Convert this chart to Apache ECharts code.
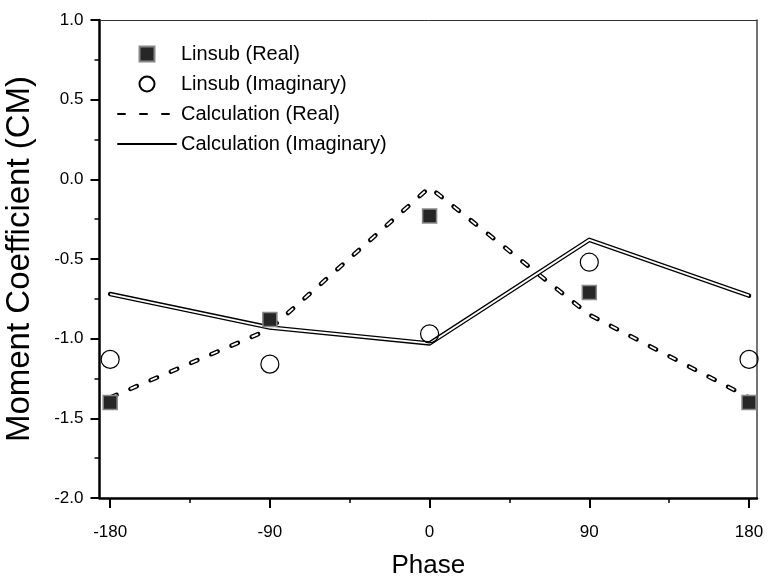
<!DOCTYPE html>
<html>
<head>
<meta charset="utf-8">
<script src="https://cdn.jsdelivr.net/npm/echarts@6/dist/echarts.min.js"></script>
<style>
html, body { margin: 0; padding: 0; background: #fff; }
#chart { width: 769px; height: 582px; }
</style>
</head>
<body>
<div id="chart"></div>
<script>
// data
var phases = [-180, -90, 0, 90, 180];
var linsubReal = [-1.40, -0.88, -0.23, -0.71, -1.40];
var linsubImag = [-1.13, -1.16, -0.97, -0.52, -1.13];
var calcReal = [-1.37, -0.94, -0.05, -0.85, -1.37];
var calcImag = [-0.72, -0.93, -1.03, -0.38, -0.73];
var majorTicks = [-180, -90, 0, 90, 180];
var minorTicks = [-135, -45, 45, 135];

function pairs(ys) {
    return phases.map(function (x, i) { return [x, ys[i]]; });
}

var font = 'Liberation Sans, Arial, sans-serif';
var xMin = -186, xMax = 184.5;
var squarePath = 'path://M0,0H10V10H0Z';

var chart = echarts.init(document.getElementById('chart'));

var opt = {
    animation: false,
    backgroundColor: '#fff',
    grid: [
        { left: 99.5, right: 12, top: 20, bottom: 84, outerBoundsMode: 'none' },
        { left: 99.5, right: 12, top: 20, bottom: 84, outerBoundsMode: 'none' }
    ],
    legend: {
        orient: 'vertical',
        left: 112,
        top: 39,
        itemWidth: 58,
        itemHeight: 15,
        itemGap: 10,
        symbolKeepAspect: true,
        data: [
            { name: 'Linsub (Real)', icon: squarePath },
            { name: 'Linsub (Imaginary)' },
            { name: 'Calculation (Real)', itemStyle: { opacity: 0 } },
            { name: 'Calculation (Imaginary)', itemStyle: { opacity: 0 } }
        ],
        textStyle: { fontFamily: font, fontSize: 20, color: '#000' }
    },
    xAxis: [
        {
            type: 'value', gridIndex: 0, position: 'bottom',
            min: xMin, max: xMax,
            name: 'Phase', nameLocation: 'middle', nameGap: 55,
            nameTextStyle: { fontFamily: font, fontSize: 26, color: '#000' },
            axisLine: { show: true, onZero: false, lineStyle: { color: '#000', width: 2.5 } },
            axisTick: { show: true, inside: false, length: 10, customValues: majorTicks, lineStyle: { color: '#000', width: 2 } },
            axisLabel: { customValues: majorTicks, margin: 26, fontFamily: font, fontSize: 17, color: '#000' },
            splitLine: { show: false }
        },
        {
            type: 'value', gridIndex: 1, position: 'bottom',
            min: xMin, max: xMax,
            axisLine: { show: false, onZero: false },
            axisTick: { show: true, inside: false, length: 5, customValues: minorTicks, lineStyle: { color: '#000', width: 1.5 } },
            axisLabel: { show: false },
            splitLine: { show: false }
        },
        {
            type: 'value', gridIndex: 1, position: 'top',
            min: xMin, max: xMax,
            axisLine: { show: true, onZero: false, lineStyle: { color: '#333', width: 1 } },
            axisTick: { show: false },
            axisLabel: { show: false },
            splitLine: { show: false }
        }
    ],
    yAxis: [
        {
            type: 'value', gridIndex: 0, position: 'left',
            min: -2, max: 1, interval: 0.5,
            name: 'Moment Coefficient (CM)', nameLocation: 'middle', nameGap: 63,
            nameTextStyle: { fontFamily: font, fontSize: 33, color: '#000' },
            axisLine: { show: true, onZero: false, lineStyle: { color: '#000', width: 2.5 } },
            axisTick: { show: true, inside: false, length: 9, lineStyle: { color: '#000', width: 2 } },
            minorTick: { show: true, splitNumber: 2, length: 5, lineStyle: { color: '#000', width: 1.5 } },
            axisLabel: {
                margin: 16, fontFamily: font, fontSize: 17, color: '#000',
                formatter: function (v) { return v.toFixed(1); }
            },
            splitLine: { show: false }
        },
        {
            type: 'value', gridIndex: 1, position: 'right',
            min: -2, max: 1,
            axisLine: { show: true, onZero: false, lineStyle: { color: '#444', width: 1.5 } },
            axisTick: { show: false },
            axisLabel: { show: false },
            splitLine: { show: false }
        }
    ],
    series: [
        {
            name: 'Calculation (Real)', type: 'line', xAxisIndex: 0, yAxisIndex: 0,
            data: pairs(calcReal), symbol: 'none', z: 2,
            lineStyle: { color: '#000', width: 4.5, type: [7, 15], cap: 'round' }
        },
        {
            name: 'calcRealInner', type: 'line', xAxisIndex: 0, yAxisIndex: 0,
            data: pairs(calcReal), symbol: 'none', z: 3, silent: true,
            lineStyle: { color: '#fff', width: 1.8, type: [7, 15] }
        },
        {
            name: 'Calculation (Imaginary)', type: 'line', xAxisIndex: 0, yAxisIndex: 0,
            data: pairs(calcImag), symbol: 'none', z: 2,
            lineStyle: { color: '#000', width: 4.5, cap: 'round', join: 'round' }
        },
        {
            name: 'calcImagInner', type: 'line', xAxisIndex: 0, yAxisIndex: 0,
            data: pairs(calcImag), symbol: 'none', z: 3, silent: true,
            lineStyle: { color: '#fff', width: 1.8 }
        },
        {
            name: 'Linsub (Real)', type: 'scatter', xAxisIndex: 0, yAxisIndex: 0,
            data: pairs(linsubReal), symbol: 'rect', symbolSize: 14, z: 5,
            itemStyle: { color: '#262626', borderColor: '#888', borderWidth: 1.5, opacity: 1 }
        },
        {
            name: 'Linsub (Imaginary)', type: 'scatter', xAxisIndex: 0, yAxisIndex: 0,
            data: pairs(linsubImag), symbol: 'circle', symbolSize: 18, z: 5,
            itemStyle: { color: 'rgba(255,255,255,0)', borderColor: '#000', borderWidth: 1.2, opacity: 1 }
        }
    ]
};
chart.setOption(opt);
</script>
</body>
</html>
